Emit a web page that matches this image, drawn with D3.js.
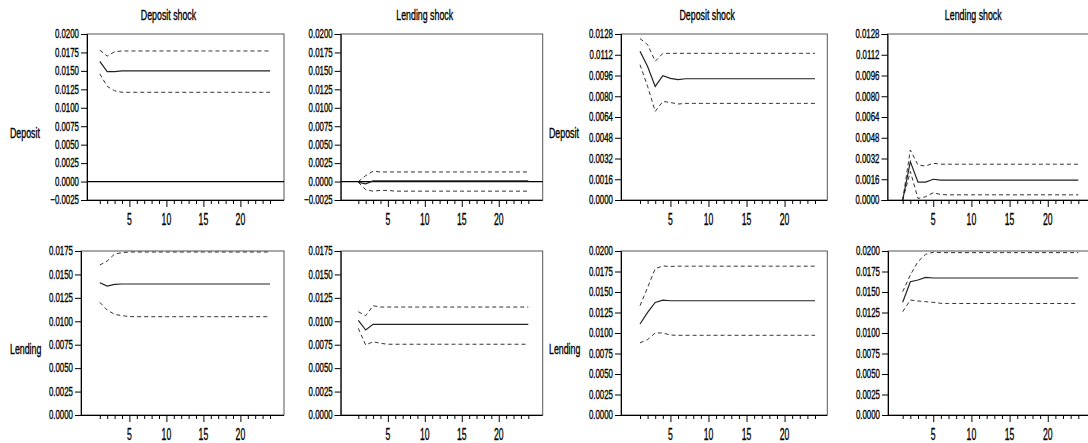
<!DOCTYPE html>
<html><head><meta charset="utf-8">
<script src="https://cdn.jsdelivr.net/npm/d3@7"></script>
<style>
body{margin:0;background:#fff}
svg{display:block}
text{font-family:"Liberation Sans",Arial,sans-serif;fill:#000;stroke:#000;stroke-width:0.35px}
</style>
</head><body>
<svg id="c" width="1088" height="443"></svg>
<script>
// ---------------- DATA ----------------
const periods = [1,2,3,4,5,6,7,8,9,10,11,12,13,14,15,16,17,18,19,20,21,22,23,24];
const xTickLabels = [5,10,15,20];
const shockTitles = ["Deposit shock","Lending shock","Deposit shock","Lending shock"];
const rowLabels = ["Deposit","Lending"];

const yTicksA = [-0.0025,0.0000,0.0025,0.0050,0.0075,0.0100,0.0125,0.0150,0.0175,0.0200];
const yTicksB = [0.0000,0.0016,0.0032,0.0048,0.0064,0.0080,0.0096,0.0112,0.0128];
const yTicksC = [0.0000,0.0025,0.0050,0.0075,0.0100,0.0125,0.0150,0.0175];
const yTicksD = [0.0000,0.0025,0.0050,0.0075,0.0100,0.0125,0.0150,0.0175,0.0200];

// Panel 1: Deposit <- Deposit shock
const p1Irf   = [0.0163,0.0149,0.0149,0.0150,0.0150,0.0150,0.0150,0.0150,0.0150,0.0150,0.0150,0.0150,0.0150,0.0150,0.0150,0.0150,0.0150,0.0150,0.0150,0.0150,0.0150,0.0150,0.0150,0.0150];
const p1Upper = [0.0178,0.0170,0.0176,0.0177,0.0177,0.0177,0.0177,0.0177,0.0177,0.0177,0.0177,0.0177,0.0177,0.0177,0.0177,0.0177,0.0177,0.0177,0.0177,0.0177,0.0177,0.0177,0.0177,0.0177];
const p1Lower = [0.0146,0.0129,0.0123,0.0121,0.0121,0.0121,0.0121,0.0121,0.0121,0.0121,0.0121,0.0121,0.0121,0.0121,0.0121,0.0121,0.0121,0.0121,0.0121,0.0121,0.0121,0.0121,0.0121,0.0121];
// Panel 2: Deposit <- Lending shock
const p2Irf   = [-0.0001,-0.0003,0.0001,0.0001,0.0001,0.0001,0.0001,0.0001,0.0001,0.0001,0.0001,0.0001,0.0001,0.0001,0.0001,0.0001,0.0001,0.0001,0.0001,0.0001,0.0001,0.0001,0.0001,0.0001];
const p2Upper = [0.0000,0.0008,0.0014,0.0013,0.0013,0.0013,0.0013,0.0013,0.0013,0.0013,0.0013,0.0013,0.0013,0.0013,0.0013,0.0013,0.0013,0.0013,0.0013,0.0013,0.0013,0.0013,0.0013,0.0013];
const p2Lower = [-0.0001,-0.0011,-0.0013,-0.0012,-0.0012,-0.0013,-0.0013,-0.0013,-0.0013,-0.0013,-0.0013,-0.0013,-0.0013,-0.0013,-0.0013,-0.0013,-0.0013,-0.0013,-0.0013,-0.0013,-0.0013,-0.0013,-0.0013,-0.0013];
// Panel 3: Deposit <- Deposit shock (model 2)
const p3Irf   = [0.01147,0.01030,0.00876,0.00958,0.00938,0.00928,0.00935,0.00935,0.00935,0.00935,0.00935,0.00935,0.00935,0.00935,0.00935,0.00935,0.00935,0.00935,0.00935,0.00935,0.00935,0.00935,0.00935,0.00935];
const p3Upper = [0.01245,0.01198,0.01070,0.01130,0.01131,0.01131,0.01131,0.01131,0.01131,0.01131,0.01131,0.01131,0.01131,0.01131,0.01131,0.01131,0.01131,0.01131,0.01131,0.01131,0.01131,0.01131,0.01131,0.01131];
const p3Lower = [0.01043,0.00876,0.00683,0.00760,0.00752,0.00740,0.00745,0.00745,0.00745,0.00745,0.00745,0.00745,0.00745,0.00745,0.00745,0.00745,0.00745,0.00745,0.00745,0.00745,0.00745,0.00745,0.00745,0.00745];
// Panel 4: Deposit <- Lending shock (model 2)
const p4Irf   = [0.0000,0.00296,0.00138,0.00138,0.00160,0.00154,0.00154,0.00154,0.00154,0.00154,0.00154,0.00154,0.00154,0.00154,0.00154,0.00154,0.00154,0.00154,0.00154,0.00154,0.00154,0.00154,0.00154,0.00154];
const p4Upper = [0.0000,0.00386,0.00270,0.00262,0.00283,0.00276,0.00276,0.00276,0.00276,0.00276,0.00276,0.00276,0.00276,0.00276,0.00276,0.00276,0.00276,0.00276,0.00276,0.00276,0.00276,0.00276,0.00276,0.00276];
const p4Lower = [0.0000,0.00220,0.00012,0.00025,0.00056,0.00042,0.00040,0.00040,0.00040,0.00040,0.00040,0.00040,0.00040,0.00040,0.00040,0.00040,0.00040,0.00040,0.00040,0.00040,0.00040,0.00040,0.00040,0.00040];
// Panel 5: Lending <- Deposit shock
const p5Irf   = [0.01412,0.01376,0.01394,0.01398,0.01398,0.01398,0.01398,0.01398,0.01398,0.01398,0.01398,0.01398,0.01398,0.01398,0.01398,0.01398,0.01398,0.01398,0.01398,0.01398,0.01398,0.01398,0.01398,0.01398];
const p5Upper = [0.01600,0.01643,0.01718,0.01732,0.01739,0.01739,0.01739,0.01739,0.01739,0.01739,0.01739,0.01739,0.01739,0.01739,0.01739,0.01739,0.01739,0.01739,0.01739,0.01739,0.01739,0.01739,0.01739,0.01739];
const p5Lower = [0.01202,0.01120,0.01074,0.01060,0.01050,0.01049,0.01049,0.01049,0.01049,0.01049,0.01049,0.01049,0.01049,0.01049,0.01049,0.01049,0.01049,0.01049,0.01049,0.01049,0.01049,0.01049,0.01049,0.01049];
// Panel 6: Lending <- Lending shock
const p6Irf   = [0.01010,0.00907,0.00967,0.00967,0.00967,0.00967,0.00967,0.00967,0.00967,0.00967,0.00967,0.00967,0.00967,0.00967,0.00967,0.00967,0.00967,0.00967,0.00967,0.00967,0.00967,0.00967,0.00967,0.00967];
const p6Upper = [0.01102,0.01060,0.01166,0.01152,0.01152,0.01152,0.01152,0.01152,0.01152,0.01152,0.01152,0.01152,0.01152,0.01152,0.01152,0.01152,0.01152,0.01152,0.01152,0.01152,0.01152,0.01152,0.01152,0.01152];
const p6Lower = [0.00925,0.00747,0.00782,0.00765,0.00755,0.00755,0.00755,0.00755,0.00755,0.00755,0.00755,0.00755,0.00755,0.00755,0.00755,0.00755,0.00755,0.00755,0.00755,0.00755,0.00755,0.00755,0.00755,0.00755];
// Panel 7: Lending <- Deposit shock (model 2)
const p7Irf   = [0.01110,0.01252,0.01373,0.01401,0.01393,0.01393,0.01393,0.01393,0.01393,0.01393,0.01393,0.01393,0.01393,0.01393,0.01393,0.01393,0.01393,0.01393,0.01393,0.01393,0.01393,0.01393,0.01393,0.01393];
const p7Upper = [0.01333,0.01555,0.01785,0.01817,0.01812,0.01815,0.01815,0.01815,0.01815,0.01815,0.01815,0.01815,0.01815,0.01815,0.01815,0.01815,0.01815,0.01815,0.01815,0.01815,0.01815,0.01815,0.01815,0.01815];
const p7Lower = [0.00880,0.00920,0.01001,0.01000,0.00975,0.00972,0.00972,0.00972,0.00972,0.00972,0.00972,0.00972,0.00972,0.00972,0.00972,0.00972,0.00972,0.00972,0.00972,0.00972,0.00972,0.00972,0.00972,0.00972];
// Panel 8: Lending <- Lending shock (model 2)
const p8Irf   = [0.01374,0.01626,0.01646,0.01679,0.01671,0.01671,0.01671,0.01671,0.01671,0.01671,0.01671,0.01671,0.01671,0.01671,0.01671,0.01671,0.01671,0.01671,0.01671,0.01671,0.01671,0.01671,0.01671,0.01671];
const p8Upper = [0.01504,0.01707,0.01870,0.01960,0.01984,0.01980,0.01980,0.01980,0.01980,0.01980,0.01980,0.01980,0.01980,0.01980,0.01980,0.01980,0.01980,0.01980,0.01980,0.01980,0.01980,0.01980,0.01980,0.01980];
const p8Lower = [0.01260,0.01402,0.01390,0.01382,0.01374,0.01362,0.01360,0.01360,0.01360,0.01360,0.01360,0.01360,0.01360,0.01360,0.01360,0.01360,0.01360,0.01360,0.01360,0.01360,0.01360,0.01360,0.01360,0.01360];

// ---------------- LAYOUT ----------------
const cols = [
  {L:[87,81], R:284, x1:99.8, x24:270},
  {L:[340.7,340.7], R:542.7, x1:358.3, x24:528.3},
  {L:[621,621], R:827.3, x1:640, x24:815},
  {L:[887.5,888], R:1093, x1:902.7, x24:1078.3}
];
const rows = [{T:34, B:200},{T:251, B:415}];

const panels = [
  {r:0,c:0,ticks:yTicksA,irf:p1Irf,up:p1Upper,lo:p1Lower},
  {r:0,c:1,ticks:yTicksA,irf:p2Irf,up:p2Upper,lo:p2Lower},
  {r:0,c:2,ticks:yTicksB,irf:p3Irf,up:p3Upper,lo:p3Lower},
  {r:0,c:3,ticks:yTicksB,irf:p4Irf,up:p4Upper,lo:p4Lower},
  {r:1,c:0,ticks:yTicksC,irf:p5Irf,up:p5Upper,lo:p5Lower},
  {r:1,c:1,ticks:yTicksC,irf:p6Irf,up:p6Upper,lo:p6Lower},
  {r:1,c:2,ticks:yTicksD,irf:p7Irf,up:p7Upper,lo:p7Lower},
  {r:1,c:3,ticks:yTicksD,irf:p8Irf,up:p8Upper,lo:p8Lower}
];

const svg = d3.select("#c");
const fmt = d3.format(".4f");
const SX = 0.63;

function addText(g, x, y, str, size, anchor, sx){
  g.append("text")
    .attr("transform",`translate(${x},${y}) scale(${sx},1)`)
    .attr("text-anchor",anchor)
    .style("font-size",size+"px")
    .text(str);
}

panels.forEach(p=>{
  const col = cols[p.c], row = rows[p.r];
  const L = col.L[p.r], R = col.R, T = row.T, B = row.B;
  const x = d3.scaleLinear().domain([periods[0], periods[periods.length-1]]).range([col.x1, col.x24]);
  const y = d3.scaleLinear().domain(d3.extent(p.ticks)).range([B, T]);
  const g = svg.append("g");

  // frame
  g.append("rect").attr("x",L).attr("y",T).attr("width",R-L).attr("height",B-T)
    .attr("fill","none").attr("stroke","#555").attr("stroke-width",1);

  // y axis
  const yAxis = d3.axisLeft(y).tickValues(p.ticks).tickSize(6).tickFormat("");
  const ya = g.append("g").attr("transform",`translate(${L},0)`).call(yAxis);
  ya.select(".domain").attr("stroke","#000");
  ya.selectAll(".tick line").attr("stroke","#000");
  p.ticks.forEach(v=> addText(g, L-8, y(v)+4.3, fmt(v), 12.5, "end", 0.63));

  // x axis
  const xAxis = d3.axisBottom(x).tickValues(periods).tickSize(4).tickSizeOuter(0).tickFormat("");
  const xa = g.append("g").attr("transform",`translate(0,${B})`).call(xAxis);
  xa.select(".domain").attr("d",`M${L},0.5H${R}`).attr("stroke","#000");
  xa.selectAll(".tick line").attr("stroke","#000")
    .attr("y2", d => xTickLabels.includes(d) ? 7 : 4);
  xTickLabels.forEach(v=> addText(g, x(v), B+25, String(v), 16, "middle", 0.54));

  // zero line
  if (y.domain()[0] < 0) {
    g.append("line").attr("x1",L).attr("x2",R).attr("y1",y(0)).attr("y2",y(0))
      .attr("stroke","#000").attr("stroke-width",1.3);
  }

  const line = d3.line().x((d,i)=>x(periods[i])).y(d=>y(d));
  g.append("path").datum(p.up).attr("d",line).attr("fill","none")
    .attr("stroke","#333").attr("stroke-width",1).attr("stroke-dasharray","4,3");
  g.append("path").datum(p.lo).attr("d",line).attr("fill","none")
    .attr("stroke","#333").attr("stroke-width",1).attr("stroke-dasharray","4,3");
  g.append("path").datum(p.irf).attr("d",line).attr("fill","none")
    .attr("stroke","#222").attr("stroke-width",1.2);

  if (p.r === 0) addText(g, (L+R)/2 - 17, 20, shockTitles[p.c], 14, "middle", SX);
  if (p.c === 0 || p.c === 2) {
    const lx = p.c === 0 ? 10 : 549;
    addText(g, lx, (T+B)/2 + 20.5, rowLabels[p.r], 14, "start", SX);
  }
});
</script>
</body></html>
